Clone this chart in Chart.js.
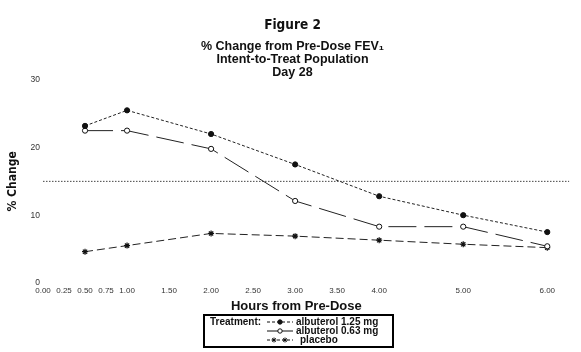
<!DOCTYPE html>
<html>
<head>
<meta charset="utf-8">
<script src="https://cdn.jsdelivr.net/npm/chart.js@4.4.1/dist/chart.umd.min.js"></script>
<style>
  html, body { margin: 0; padding: 0; background: #fff; }
  #wrap { width: 581px; height: 352px; }
</style>
</head>
<body>
<div id="wrap"><canvas id="fevChart" width="581" height="352"></canvas></div>
<script>
const hours = [0.5, 1, 2, 3, 4, 5, 6];
const albuterolHigh = [23.2, 25.5, 22.0, 17.5, 12.8, 10.0, 7.5];
const albuterolLow = [22.5, 22.5, 19.8, 12.1, 8.3, 8.3, 5.4];
const placebo = [4.6, 5.5, 7.3, 6.9, 6.3, 5.7, 5.2];
const refLevel = 15;
const refSpan = [0, 6.26];
const xTicks = [0, 0.25, 0.5, 0.75, 1, 1.5, 2, 2.5, 3, 3.5, 4, 5, 6];
const yTicks = [0, 10, 20, 30];

const narrow = "'Liberation Sans Narrow', 'DejaVu Sans Condensed', 'Arial Narrow', sans-serif";
const plain = "'Liberation Sans', Arial, sans-serif";

const toPoints = ys => hours.map((h, i) => ({ x: h, y: ys[i] }));

// legend box under the axis title, drawn from the dataset styles
const treatmentLegend = {
    id: 'treatmentLegend',
    afterDraw(chart) {
        const ctx = chart.ctx;
        ctx.save();
        ctx.strokeStyle = '#000';
        ctx.lineWidth = 2;
        ctx.strokeRect(204, 315, 189, 32);

        ctx.fillStyle = '#111';
        ctx.textBaseline = 'middle';
        ctx.font = 'bold 10px ' + plain;
        ctx.fillText('Treatment:', 210, 322);

        const rowY = [322, 331, 340];
        [0, 1, 2].forEach((di, r) => {
            const ds = chart.data.datasets[di];
            const y = rowY[r];
            ctx.save();
            ctx.strokeStyle = '#111';
            ctx.lineWidth = 1;
            ctx.setLineDash(di === 1 ? [] : [3, 2]);
            ctx.beginPath();
            ctx.moveTo(267, y);
            ctx.lineTo(293, y);
            ctx.stroke();
            ctx.restore();

            ctx.fillStyle = ds.pointBackgroundColor;
            ctx.strokeStyle = '#111';
            ctx.lineWidth = 1;
            if (ds.pointStyle === 'circle') {
                ctx.beginPath();
                ctx.arc(280, y, 2.2, 0, Math.PI * 2);
                ctx.fill();
                ctx.stroke();
            } else {
                Chart.helpers.drawPoint(ctx, { pointStyle: ds.pointStyle, radius: 2.5, borderWidth: 1 }, 274, y);
                Chart.helpers.drawPoint(ctx, { pointStyle: ds.pointStyle, radius: 2.5, borderWidth: 1 }, 285, y);
            }
            ctx.fillStyle = '#111';
            ctx.font = 'bold 10px ' + plain;
            ctx.fillText(ds.label, di === 2 ? 300 : 296, y);
        });
        ctx.restore();
    }
};

const ctx = document.getElementById('fevChart').getContext('2d');
new Chart(ctx, {
    type: 'line',
    data: {
        datasets: [
            {
                label: 'albuterol 1.25 mg',
                data: toPoints(albuterolHigh),
                borderColor: '#222',
                borderWidth: 1,
                borderDash: [3, 2],
                pointStyle: 'circle',
                pointRadius: 2.6,
                pointBackgroundColor: '#111',
                pointBorderColor: '#111',
                pointBorderWidth: 1
            },
            {
                label: 'albuterol 0.63 mg',
                data: toPoints(albuterolLow),
                borderColor: '#222',
                borderWidth: 1,
                borderDash: [28, 8],
                pointStyle: 'circle',
                pointRadius: 2.6,
                pointBackgroundColor: '#fff',
                pointBorderColor: '#111',
                pointBorderWidth: 1
            },
            {
                label: 'placebo',
                data: toPoints(placebo),
                borderColor: '#222',
                borderWidth: 1,
                borderDash: [8, 4],
                pointStyle: 'star',
                pointRadius: 3,
                pointBackgroundColor: '#111',
                pointBorderColor: '#111',
                pointBorderWidth: 1.2
            },
            {
                label: 'reference',
                data: refSpan.map(x => ({ x: x, y: refLevel })),
                borderColor: '#444',
                borderWidth: 1,
                borderDash: [1.5, 1.5],
                pointRadius: 0
            }
        ]
    },
    options: {
        responsive: false,
        animation: false,
        layout: { padding: { left: 10, right: 6, top: 0, bottom: 37 } },
        plugins: {
            legend: { display: false },
            tooltip: { enabled: false },
            title: {
                display: true,
                text: 'Figure 2',
                color: '#111',
                font: { family: narrow, size: 13.5, weight: 'bold', lineHeight: 1.4 },
                padding: { top: 16, bottom: 2 }
            },
            subtitle: {
                display: true,
                text: ['% Change from Pre-Dose FEV\u2081', 'Intent-to-Treat Population', 'Day 28'],
                color: '#111',
                font: { family: plain, size: 12.5, weight: 'bold', lineHeight: 1.04 },
                padding: { top: 3, bottom: 1 }
            }
        },
        scales: {
            x: {
                type: 'linear',
                min: 0,
                max: 6.33,
                grid: { display: false, drawTicks: false },
                border: { display: false },
                afterBuildTicks: s => { s.ticks = xTicks.map(v => ({ value: v })); },
                ticks: {
                    autoSkip: false,
                    maxRotation: 0,
                    padding: 3,
                    color: '#333',
                    font: { family: plain, size: 8 },
                    callback: v => Number(v).toFixed(2)
                },
                title: {
                    display: true,
                    text: 'Hours from Pre-Dose\u00a0\u00a0\u00a0\u00a0\u00a0\u00a0\u00a0',
                    color: '#111',
                    font: { family: plain, size: 13, weight: 'bold', lineHeight: 1.2 },
                    padding: { top: 0, bottom: 1 }
                }
            },
            y: {
                min: 0,
                max: 30,
                grid: { display: false, drawTicks: false },
                border: { display: false },
                afterFit: s => { s.width = 33; },
                afterBuildTicks: s => { s.ticks = yTicks.map(v => ({ value: v })); },
                ticks: {
                    padding: 3,
                    color: '#333',
                    font: { family: plain, size: 8.5 }
                },
                title: {
                    display: true,
                    text: '% Change',
                    color: '#111',
                    font: { family: narrow, size: 12, weight: 'bold', lineHeight: 1.2 },
                    padding: { top: -4, bottom: 0 }
                }
            }
        }
    },
    plugins: [treatmentLegend]
});
</script>
</body>
</html>
